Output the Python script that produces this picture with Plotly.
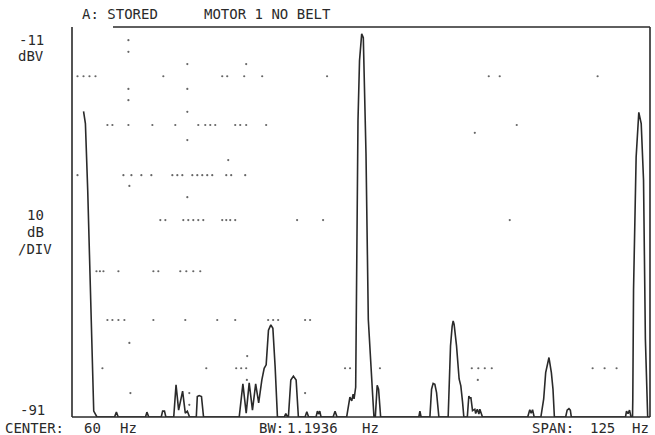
import plotly.graph_objects as go

# ---- spectrum trace (frequency in Hz, level in dBV) ----
freq_hz = [
    0.0, 0.4, 0.9, 1.5, 1.86, 2.2, 2.9,
    6.7, 7.1, 7.5,
    13.4, 13.7, 14.1,
    16.8, 17.1, 17.5, 17.8,
    19.5, 20.0, 20.56, 21.42, 22.0, 22.44, 22.93,
    24.38, 24.6, 25.0, 25.5, 25.95,
    33.66, 34.46, 35.17, 35.82, 36.53, 37.22, 37.87, 38.56, 39.06, 39.49,
    39.99, 40.5, 40.94, 41.43, 41.93,
    43.4, 43.74, 44.13,
    44.3, 44.82, 45.38, 45.97, 46.46,
    47.9, 48.28, 48.67,
    50.28, 50.57, 50.82, 51.08, 51.36,
    53.96, 54.39, 54.82,
    56.9, 57.6, 58.0, 58.3, 58.5, 58.85, 58.92, 59.07, 59.35, 59.68,
    60.15, 60.5, 61.08, 61.58, 62.1, 62.53, 62.8,
    63.1, 63.5, 63.8, 64.25,
    72.5, 72.74, 73.0,
    74.9, 75.26, 75.6, 75.97, 76.34, 76.84,
    78.85, 79.06, 79.36, 79.71, 79.93, 80.14, 80.66, 81.22, 81.59, 81.96, 82.24,
    82.99, 83.32, 83.6, 83.75, 84.12, 84.61, 84.8, 85.15, 85.5, 85.7, 86.27,
    96.05, 96.5, 96.8, 97.1, 97.45,
    98.9, 99.23, 99.51, 99.94, 100.65, 101.17, 101.52, 101.82,
    104.26, 104.58, 104.97, 105.27, 105.49,
    117.2, 117.42, 117.75, 118.07, 118.4,
    118.72, 118.78, 118.94, 119.5, 119.8, 120.08, 120.6, 121.1, 121.5, 121.9, 122.0, 122.5,
]
level_dbv = [
    -28.3, -30.8, -44.5, -64.9, -80.6, -89.8, -91,
    -91, -90.0, -91,
    -91, -90.0, -91,
    -91, -89.8, -89.8, -91,
    -91, -84.4, -89.6, -85.7, -90.2, -89.8, -91,
    -91, -86.8, -86.6, -86.8, -91,
    -91, -84.2, -90.2, -84.0, -89.6, -84.2, -88.1, -83.4, -81.0, -80.3,
    -73.2, -72.1, -72.8, -80.7, -91,
    -91, -90.3, -91,
    -91, -83.4, -82.6, -83.4, -91,
    -91, -89.9, -91,
    -91, -89.8, -90.4, -89.8, -91,
    -91, -89.8, -91,
    -91, -86.9, -87.7, -86.3, -87.3, -84.9, -77.7, -50.6, -30.2, -17.9,
    -12.4, -13.2, -36.9, -71.0, -81.2, -86.7, -91,
    -91, -84.5, -85.3, -91,
    -91, -89.8, -91,
    -91, -85.3, -84.1, -84.3, -86.0, -91,
    -91, -83.2, -76.4, -72.4, -71.3, -72.0, -76.4, -83.2, -84.6, -87.9, -91,
    -91, -86.7, -87.2, -86.9, -89.7, -89.4, -90.3, -89.4, -90.4, -89.4, -91,
    -91, -89.5, -90.2, -89.5, -91,
    -91, -89.4, -87.3, -81.9, -78.8, -81.9, -85.3, -91,
    -91, -89.6, -89.3, -89.6, -91,
    -91, -89.8, -90.3, -89.6, -91,
    -91, -87.3, -64.9, -37.7, -31.2, -28.5, -30.8, -42.4, -75.0, -89.8, -91, -91,
]

# ---- faint graticule dots left on the screen (Hz, dBV) ----
dot_hz = [
    9.7, 9.7,
    22.44, 35.17,
    -1.31, -0.01, 1.28, 2.58, 17.25, 29.99, 31.07, 34.74, 38.63, 52.66, 87.63, 90.0, 111.17,
    9.7, 22.44, 9.7, 22.44,
    5.16, 6.24, 9.7, 14.88, 19.84, 24.81, 26.32, 27.4, 28.48, 32.8, 33.88, 35.17, 39.49, 93.68,
    84.61, 22.44, 31.29,
    -1.31, 8.62, 10.35, 12.5, 14.66, 19.2, 20.28, 21.36, 23.52, 24.6, 25.67, 26.75, 27.83, 30.86, 31.93, 34.96,
    9.91, 22.44,
    16.6, 17.69, 21.57, 22.65, 23.73, 24.81, 25.89, 29.99, 30.86, 31.72, 32.8, 46.18, 51.8, 92.17,
    2.79, 3.54, 4.3, 7.54, 15.1, 16.17, 20.92, 22.22, 23.73, 25.24,
    5.16, 6.24, 7.54, 8.83, 15.1, 22.0, 28.91, 32.8, 39.92, 41.0, 42.08, 47.91, 48.99,
    9.91, 35.39,
    4.08, 26.54, 33.01, 34.09, 35.17, 56.55, 57.63, 64.1, 83.96, 85.37, 86.77, 88.28, 110.09, 112.68, 115.27,
    35.32, 85.26,
    10.13, 22.87, 47.91, 22.87,
]
dot_dbv = [
    -13.7, -16.1,
    -18.6, -18.6,
    -21.1, -21.1, -21.1, -21.1, -21.1, -21.1, -21.1, -21.1, -21.1, -21.1, -21.1, -21.1, -21.1,
    -23.7, -23.7, -26.0, -28.4,
    -31.1, -31.1, -31.1, -31.1, -31.1, -31.1, -31.1, -31.1, -31.1, -31.1, -31.1, -31.1, -31.1, -31.1,
    -32.7, -34.2, -38.3,
    -41.4, -41.4, -41.4, -41.4, -41.4, -41.4, -41.4, -41.4, -41.4, -41.4, -41.4, -41.4, -41.4, -41.4, -41.4, -41.4,
    -43.6, -45.9,
    -50.6, -50.6, -50.6, -50.6, -50.6, -50.6, -50.6, -50.6, -50.6, -50.6, -50.6, -50.6, -50.6, -50.6,
    -61.1, -61.1, -61.1, -61.1, -61.1, -61.1, -61.1, -61.1, -61.1, -61.1,
    -71.1, -71.1, -71.1, -71.1, -71.1, -71.1, -71.1, -71.1, -71.1, -71.1, -71.1, -71.1, -71.1,
    -75.8, -78.5,
    -81.0, -81.0, -81.0, -81.0, -81.0, -81.0, -81.0, -81.0, -81.0, -81.0, -81.0, -81.0, -81.0, -81.0, -81.0,
    -83.4, -83.4,
    -86.1, -86.1, -86.1, -88.5,
]

CENTER_HZ = 60
SPAN_HZ = 125
TOP_DBV = -11
BOTTOM_DBV = -91

FONT = "DejaVu Sans Mono, monospace"
INK = "#2a2a2a"

fig = go.Figure()
fig.add_trace(go.Scatter(
    x=dot_hz, y=dot_dbv, mode="markers",
    marker=dict(size=2.2, color="#666666"), hoverinfo="skip", showlegend=False,
))
fig.add_trace(go.Scatter(
    x=freq_hz, y=level_dbv, mode="lines",
    line=dict(color=INK, width=1.6), showlegend=False,
))

W, H = 655, 435
L, R, T, B = 72, 5, 27, 18
pw, ph = W - L - R, H - T - B


def px(x):
    return (x - L) / pw


def py(y):
    return (H - B - y) / ph


# frame
frame = dict(type="line", xref="paper", yref="paper", line=dict(color=INK, width=1.6))
shapes = [
    dict(frame, x0=0, x1=0, y0=0, y1=1),
    dict(frame, x0=0, x1=1, y0=0, y1=0),
    dict(frame, x0=1, x1=1, y0=0, y1=1),
    dict(frame, x0=px(113), x1=1, y0=1, y1=1),
]

texts = [
    ("A: STORED", 80, 14, "left"),
    ("MOTOR 1 NO BELT", 202, 14, "left"),
    ("-11", 31, 40, "center"),
    ("dBV", 31, 56, "center"),
    ("10", 35, 215, "center"),
    ("dB", 35, 232, "center"),
    ("/DIV", 35, 249, "center"),
    ("-91", 33, 410, "center"),
    ("CENTER:", 3, 428, "left"),
    ("%d" % CENTER_HZ, 82, 428, "left"),
    ("Hz", 118, 428, "left"),
    ("BW:", 257, 428, "left"),
    ("1.1936", 285, 428, "left"),
    ("Hz", 360, 428, "left"),
    ("SPAN:", 530, 428, "left"),
    ("%d" % SPAN_HZ, 588, 428, "left"),
    ("Hz", 630, 428, "left"),
]
annotations = [
    dict(text=t, x=px(x), y=py(y), xref="paper", yref="paper", xanchor=a,
         yanchor="middle", showarrow=False, font=dict(family=FONT, size=14, color=INK))
    for t, x, y, a in texts
]

fig.update_layout(
    width=W, height=H,
    margin=dict(l=L, r=R, t=T, b=B, pad=0),
    paper_bgcolor="white", plot_bgcolor="white",
    xaxis=dict(range=[CENTER_HZ - SPAN_HZ / 2, CENTER_HZ + SPAN_HZ / 2], showgrid=False,
               zeroline=False, showticklabels=False, ticks="", showline=False),
    yaxis=dict(range=[BOTTOM_DBV, TOP_DBV], showgrid=False, zeroline=False,
               showticklabels=False, ticks="", showline=False),
    shapes=shapes, annotations=annotations,
)

fig.write_html("out.html")
